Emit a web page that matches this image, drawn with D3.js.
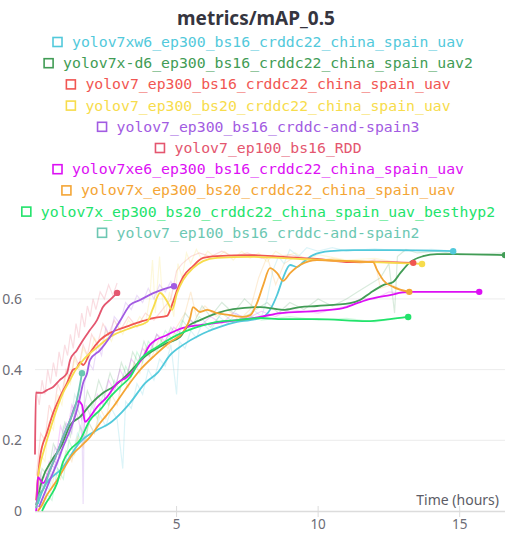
<!DOCTYPE html>
<html>
<head>
<meta charset="utf-8">
<script src="https://cdn.jsdelivr.net/npm/d3@7"></script>
<style>
  html, body { margin: 0; padding: 0; background: #fff; }
  svg { display: block; }
</style>
</head>
<body>
<svg id="chart" width="505" height="534"></svg>
<script>
// Run names, in legend order
const runNames = [
  "yolov7xw6_ep300_bs16_crddc22_china_spain_uav",
  "yolov7x-d6_ep300_bs16_crddc22_china_spain_uav2",
  "yolov7_ep300_bs16_crddc22_china_spain_uav",
  "yolov7_ep300_bs20_crddc22_china_spain_uav",
  "yolov7_ep300_bs16_crddc-and-spain3",
  "yolov7_ep100_bs16_RDD",
  "yolov7xe6_ep300_bs16_crddc22_china_spain_uav",
  "yolov7x_ep300_bs20_crddc22_china_spain_uav",
  "yolov7x_ep300_bs20_crddc22_china_spain_uav_besthyp2",
  "yolov7_ep100_bs16_crddc-and-spain2"
];

const runColors = [
  "#52c9db", "#419c55", "#f15652", "#f7dc4c", "#a25be2",
  "#e4566f", "#dc10f4", "#f4a535", "#22e36b", "#6cc7b2"
];

// Smoothed mAP_0.5 per run: [time in hours, value]
const xw6 = [[0.1,0.02],[0.28,0.06],[0.99,0.124],[1.59,0.195],[2.19,0.229],[2.65,0.249],[3.07,0.28],[3.36,0.306],[3.89,0.362],[4.35,0.393],[4.77,0.441],[5.23,0.47],[5.83,0.498],[6.43,0.518],[7.14,0.535],[7.6,0.54],[8.06,0.549],[8.3,0.569],[8.55,0.611],[8.76,0.659],[9.01,0.696],[9.26,0.69],[9.47,0.704],[9.82,0.724],[10.42,0.735],[11.24,0.738],[12.9,0.738],[14.77,0.735]];
const xd6 = [[0.04,0.017],[0.25,0.088],[0.6,0.144],[0.95,0.187],[1.24,0.243],[1.59,0.266],[2.01,0.306],[2.4,0.334],[2.76,0.351],[3.25,0.385],[3.82,0.433],[4.66,0.475],[5.12,0.492],[5.37,0.52],[5.83,0.54],[6.43,0.56],[7.0,0.571],[7.95,0.577],[8.76,0.569],[9.36,0.577],[9.96,0.58],[11.13,0.588],[11.48,0.597],[11.84,0.617],[12.3,0.639],[12.65,0.648],[12.9,0.673],[13.25,0.704],[13.71,0.721],[14.2,0.727],[14.9,0.727],[16.6,0.724]];
const v7bs16 = [[0.04,0.03],[0.18,0.153],[0.42,0.221],[0.64,0.277],[0.88,0.322],[1.13,0.362],[1.34,0.399],[1.48,0.405],[1.59,0.421],[1.7,0.413],[1.94,0.447],[2.3,0.484],[2.65,0.504],[3.11,0.518],[3.71,0.535],[4.17,0.546],[4.66,0.552],[4.84,0.583],[5.02,0.625],[5.23,0.662],[5.58,0.693],[5.94,0.716],[6.43,0.721],[7.6,0.724],[8.76,0.719],[9.96,0.713],[11.13,0.704],[12.3,0.704],[13.36,0.702]];
const v7bs20 = [[0.07,0.017],[0.1,0.088],[0.18,0.13],[0.32,0.173],[0.53,0.229],[0.78,0.291],[0.99,0.334],[1.24,0.371],[1.48,0.405],[1.7,0.427],[2.3,0.47],[2.65,0.492],[3.46,0.52],[3.96,0.535],[4.17,0.574],[4.42,0.617],[4.52,0.611],[4.7,0.588],[4.84,0.569],[5.02,0.617],[5.23,0.653],[5.58,0.687],[5.94,0.707],[6.43,0.716],[7.6,0.719],[9.36,0.713],[11.94,0.704],[13.67,0.699]];
const spain3 = [[0.14,0.011],[0.53,0.088],[0.78,0.136],[0.99,0.181],[1.24,0.229],[1.48,0.286],[1.59,0.322],[1.7,0.362],[1.84,0.39],[1.94,0.427],[2.3,0.455],[2.65,0.492],[3.07,0.547],[3.36,0.583],[3.71,0.597],[4.2,0.617],[4.91,0.636]];
const rdd = [[0.0,0.16],[0.03,0.335],[0.25,0.334],[0.42,0.342],[0.64,0.351],[0.88,0.371],[1.13,0.39],[1.24,0.427],[1.48,0.455],[1.7,0.484],[1.94,0.512],[2.19,0.54],[2.4,0.577],[2.65,0.597],[2.9,0.617]];
const xe6 = [[0.04,0.0],[0.07,0.03],[0.1,0.096],[0.28,0.079],[0.53,0.116],[0.78,0.164],[0.99,0.209],[1.24,0.257],[1.52,0.311],[1.66,0.3],[1.77,0.252],[1.94,0.266],[2.19,0.294],[2.54,0.322],[2.9,0.362],[3.25,0.379],[3.82,0.436],[4.06,0.47],[4.66,0.498],[5.23,0.518],[5.83,0.526],[6.43,0.532],[7.14,0.54],[7.95,0.549],[8.66,0.56],[9.96,0.566],[10.88,0.574],[11.38,0.588],[11.84,0.6],[12.54,0.611],[13.14,0.62],[15.69,0.62]];
const xbs20 = [[0.1,0.0],[0.25,0.017],[0.42,0.045],[0.71,0.079],[0.99,0.116],[1.31,0.158],[1.59,0.181],[1.94,0.209],[2.3,0.249],[2.76,0.294],[3.25,0.351],[3.71,0.399],[4.24,0.441],[4.77,0.478],[5.23,0.506],[5.48,0.546],[5.58,0.577],[5.83,0.563],[6.08,0.569],[6.43,0.56],[6.89,0.554],[7.35,0.549],[7.6,0.554],[7.84,0.588],[8.06,0.639],[8.3,0.687],[8.55,0.673],[8.76,0.651],[9.01,0.673],[9.36,0.696],[9.96,0.71],[11.13,0.707],[11.94,0.704],[12.08,0.682],[12.3,0.653],[12.65,0.634],[13.22,0.62]];
const besthyp2 = [[0.25,0.0],[0.35,0.017],[0.53,0.04],[0.78,0.079],[0.99,0.139],[1.24,0.173],[1.59,0.201],[1.94,0.257],[2.3,0.286],[2.65,0.322],[3.0,0.351],[3.36,0.379],[3.71,0.427],[4.31,0.464],[4.88,0.492],[5.83,0.523],[6.43,0.535],[7.14,0.54],[7.95,0.546],[8.76,0.543],[9.96,0.543],[11.73,0.537],[12.54,0.543],[13.18,0.549]];
const spain2 = [[0.04,0.008],[0.14,0.045],[0.28,0.06],[0.53,0.116],[0.78,0.164],[0.99,0.209],[1.24,0.257],[1.48,0.314],[1.66,0.39]];

const runSeries = [xw6, xd6, v7bs16, v7bs20, spain3, rdd, xe6, xbs20, besthyp2, spain2];

// Unsmoothed per-epoch values, drawn faintly behind the smoothed lines
const xw6Raw = [[0.1,0.02],[0.3,0.08],[0.5,0.06],[0.7,0.13],[0.9,0.11],[1.1,0.17],[1.3,0.15],[1.5,0.22],[1.7,0.19],[1.9,0.25],[2.1,0.22],[2.3,0.27],[2.5,0.24],[2.7,0.29],[2.9,0.26],[3.1,0.12],[3.2,0.31],[3.4,0.29],[3.6,0.36],[3.8,0.33],[4.0,0.4],[4.2,0.37],[4.4,0.43],[4.6,0.41],[4.8,0.47],[5.0,0.33],[5.1,0.48],[5.3,0.46],[5.5,0.51],[5.7,0.49],[5.9,0.53],[6.2,0.51],[6.5,0.55],[6.8,0.53],[7.1,0.56],[7.4,0.54],[7.7,0.57],[8.0,0.55],[8.2,0.6],[8.4,0.68],[8.6,0.72],[8.8,0.7],[9.0,0.74],[9.3,0.72],[9.6,0.745],[10.0,0.735],[10.5,0.745],[11.0,0.735],[12.0,0.742],[13.0,0.735],[14.0,0.74],[14.77,0.735]];
const xd6Raw = [[0.05,0.03],[0.25,0.12],[0.45,0.1],[0.65,0.19],[0.85,0.16],[1.05,0.25],[1.25,0.21],[1.45,0.3],[1.65,0.26],[1.85,0.34],[2.05,0.3],[2.25,0.37],[2.45,0.33],[2.65,0.39],[2.85,0.35],[3.05,0.42],[3.25,0.38],[3.45,0.45],[3.65,0.42],[3.85,0.48],[4.05,0.44],[4.3,0.5],[4.55,0.47],[4.8,0.52],[5.05,0.49],[5.3,0.56],[5.6,0.53],[5.9,0.58],[6.2,0.55],[6.6,0.59],[7.0,0.56],[7.4,0.6],[7.8,0.57],[8.2,0.59],[8.6,0.56],[9.0,0.59],[9.5,0.57],[10.0,0.6],[10.5,0.58],[11.0,0.6],[11.4,0.62],[11.8,0.64],[12.2,0.66],[12.5,0.7],[12.7,0.56],[12.8,0.72],[13.1,0.74],[13.5,0.73],[14.2,0.735],[15.0,0.725],[16.6,0.73]];
const v7bs16Raw = [[0.05,0.1],[0.2,0.22],[0.35,0.2],[0.5,0.3],[0.65,0.27],[0.8,0.36],[0.95,0.33],[1.1,0.4],[1.25,0.37],[1.4,0.44],[1.55,0.41],[1.7,0.47],[1.85,0.44],[2.0,0.5],[2.2,0.47],[2.4,0.53],[2.6,0.5],[2.8,0.54],[3.0,0.51],[3.3,0.55],[3.6,0.52],[3.9,0.56],[4.2,0.54],[4.5,0.57],[4.8,0.6],[5.0,0.68],[5.2,0.7],[5.5,0.72],[5.8,0.73],[6.2,0.72],[6.6,0.735],[7.0,0.72],[7.5,0.73],[8.0,0.715],[9.0,0.725],[10.0,0.71],[11.0,0.705],[12.0,0.71],[13.36,0.7]];
const v7bs20Raw = [[0.07,0.05],[0.2,0.16],[0.35,0.14],[0.5,0.25],[0.65,0.23],[0.8,0.33],[0.95,0.3],[1.1,0.39],[1.25,0.36],[1.4,0.43],[1.55,0.4],[1.7,0.46],[1.9,0.43],[2.1,0.49],[2.3,0.46],[2.5,0.51],[2.7,0.48],[2.9,0.53],[3.1,0.5],[3.3,0.54],[3.5,0.52],[3.7,0.55],[3.9,0.53],[4.05,0.6],[4.15,0.71],[4.25,0.56],[4.4,0.72],[4.5,0.6],[4.6,0.55],[4.75,0.62],[4.9,0.55],[5.05,0.7],[5.2,0.66],[5.35,0.73],[5.5,0.7],[5.7,0.74],[5.9,0.71],[6.1,0.735],[6.4,0.715],[6.7,0.735],[7.0,0.71],[7.3,0.735],[7.6,0.715],[7.9,0.73],[8.2,0.705],[8.5,0.735],[8.8,0.72],[9.2,0.73],[9.6,0.71],[10.0,0.725],[11.0,0.71],[12.0,0.715],[13.0,0.7],[13.67,0.705]];
const spain3Raw = [[0.1,0.03],[0.3,0.1],[0.5,0.08],[0.7,0.18],[0.9,0.15],[1.1,0.25],[1.3,0.22],[1.5,0.33],[1.65,0.3],[1.7,0.02],[1.75,0.36],[1.9,0.42],[2.05,0.4],[2.2,0.47],[2.35,0.44],[2.5,0.52],[2.65,0.49],[2.8,0.55],[3.0,0.53],[3.2,0.59],[3.4,0.57],[3.6,0.61],[3.8,0.59],[4.0,0.63],[4.2,0.6],[4.4,0.64],[4.6,0.62],[4.8,0.65],[4.91,0.63]];
const rddRaw = [[0.0,0.16],[0.05,0.34],[0.15,0.3],[0.25,0.37],[0.35,0.33],[0.45,0.4],[0.55,0.36],[0.65,0.42],[0.75,0.38],[0.85,0.45],[0.95,0.41],[1.05,0.47],[1.15,0.44],[1.25,0.5],[1.35,0.46],[1.45,0.53],[1.55,0.49],[1.65,0.56],[1.75,0.52],[1.85,0.58],[1.95,0.55],[2.05,0.6],[2.15,0.57],[2.3,0.62],[2.45,0.6],[2.6,0.64],[2.75,0.61],[2.9,0.645]];
const xe6Raw = [[0.05,0.0],[0.15,0.12],[0.3,0.06],[0.5,0.14],[0.7,0.12],[0.9,0.24],[1.1,0.2],[1.3,0.3],[1.5,0.27],[1.7,0.2],[1.8,0.3],[2.0,0.26],[2.2,0.33],[2.4,0.3],[2.6,0.37],[2.8,0.34],[3.0,0.4],[3.2,0.37],[3.4,0.43],[3.6,0.41],[3.8,0.46],[4.0,0.44],[4.3,0.5],[4.6,0.48],[4.9,0.52],[5.2,0.5],[5.5,0.54],[5.8,0.52],[6.2,0.55],[6.6,0.53],[7.0,0.56],[7.5,0.545],[8.0,0.565],[8.5,0.55],[9.0,0.57],[10.0,0.56],[11.0,0.58],[11.5,0.6],[12.0,0.6],[12.5,0.62],[13.14,0.615]];
const xbs20Raw = [[0.1,0.0],[0.3,0.04],[0.5,0.03],[0.7,0.11],[0.9,0.09],[1.1,0.17],[1.3,0.14],[1.5,0.21],[1.7,0.18],[1.9,0.25],[2.1,0.22],[2.3,0.29],[2.5,0.26],[2.7,0.33],[2.9,0.3],[3.1,0.38],[3.3,0.35],[3.5,0.42],[3.7,0.39],[3.9,0.46],[4.1,0.43],[4.4,0.49],[4.7,0.46],[5.0,0.52],[5.3,0.56],[5.5,0.62],[5.7,0.55],[6.0,0.58],[6.4,0.55],[6.8,0.57],[7.2,0.54],[7.6,0.57],[7.9,0.66],[8.2,0.72],[8.5,0.64],[8.8,0.7],[9.2,0.72],[9.6,0.705],[10.5,0.715],[11.5,0.7],[12.0,0.71],[12.2,0.63],[12.6,0.64],[13.22,0.615]];
const besthyp2Raw = [[0.25,0.0],[0.4,0.05],[0.6,0.03],[0.8,0.12],[1.0,0.09],[1.2,0.2],[1.4,0.16],[1.6,0.24],[1.8,0.2],[2.0,0.3],[2.2,0.26],[2.4,0.33],[2.6,0.3],[2.8,0.37],[3.0,0.34],[3.2,0.41],[3.4,0.38],[3.6,0.45],[3.8,0.42],[4.0,0.48],[4.3,0.45],[4.6,0.51],[4.9,0.48],[5.2,0.54],[5.5,0.51],[5.8,0.55],[6.2,0.52],[6.6,0.56],[7.0,0.535],[7.5,0.555],[8.0,0.54],[9.0,0.55],[10.0,0.54],[11.0,0.545],[12.0,0.535],[13.18,0.55]];
const spain2Raw = [[0.05,0.02],[0.2,0.08],[0.4,0.06],[0.6,0.15],[0.8,0.13],[1.0,0.24],[1.2,0.22],[1.4,0.33],[1.55,0.3],[1.66,0.4]];

const rawSeries = [xw6Raw, xd6Raw, v7bs16Raw, v7bs20Raw, spain3Raw, rddRaw, xe6Raw, xbs20Raw, besthyp2Raw, spain2Raw];

const yTicks = [0, 0.2, 0.4, 0.6];
const xTicks = [5, 10, 15];

const titleText = "metrics/mAP_0.5";
const xAxisTitle = "Time (hours)";

// ---- layout ----
const svg = d3.select("#chart");
const x = d3.scaleLinear().domain([0, 16.6]).range([35, 505]);
const y = d3.scaleLinear().domain([0, 0.75]).range([511, 245.9]);

// title
svg.append("text")
  .attr("x", 256).attr("y", 25)
  .attr("text-anchor", "middle")
  .attr("font-family", "'Noto Sans', sans-serif")
  .attr("font-weight", "bold")
  .attr("font-size", 19)
  .attr("fill", "#35353f")
  .text(titleText);

// legend, one centred row per run
const legend = svg.append("g");
runNames.forEach((name, i) => {
  const row = legend.append("g").attr("transform", `translate(258, ${42 + i * 21.2})`);
  const label = row.append("text")
    .attr("x", 0).attr("y", 5)
    .attr("font-family", "'DejaVu Sans Mono', monospace")
    .attr("font-size", 14.8)
    .attr("fill", runColors[i])
    .text(name);
  const w = label.node().getComputedTextLength();
  const total = w + 20;
  label.attr("x", -total / 2 + 20);
  row.append("rect")
    .attr("x", -total / 2 + 1).attr("y", -4.5)
    .attr("width", 9).attr("height", 9)
    .attr("fill", "none")
    .attr("stroke", runColors[i])
    .attr("stroke-width", 1.6);
});

// grid lines
svg.append("g").selectAll("line")
  .data(yTicks.filter(d => d > 0))
  .join("line")
  .attr("x1", 35).attr("x2", 505)
  .attr("y1", d => y(d)).attr("y2", d => y(d))
  .attr("stroke", "#ececec").attr("stroke-width", 1);

// y axis labels
svg.append("g").selectAll("text")
  .data(yTicks)
  .join("text")
  .attr("x", 22).attr("y", d => y(d) + 5)
  .attr("text-anchor", "end")
  .attr("font-family", "'Noto Sans', sans-serif")
  .attr("font-size", 14)
  .attr("fill", "#6c6c76")
  .text(d => d === 0 ? "0" : d3.format(".1f")(d));

// x axis
const xAxis = svg.append("g");
xAxis.append("line")
  .attr("x1", 35).attr("x2", 505)
  .attr("y1", 511.5).attr("y2", 511.5)
  .attr("stroke", "#dcdcdc").attr("stroke-width", 1.5);
xAxis.selectAll("line.tick")
  .data(xTicks)
  .join("line")
  .attr("class", "tick")
  .attr("x1", d => x(d)).attr("x2", d => x(d))
  .attr("y1", 506).attr("y2", 517)
  .attr("stroke", "#dcdcdc").attr("stroke-width", 1);
xAxis.selectAll("text.tick")
  .data(xTicks)
  .join("text")
  .attr("class", "tick")
  .attr("x", d => x(d)).attr("y", 529)
  .attr("text-anchor", "middle")
  .attr("font-family", "'Noto Sans', sans-serif")
  .attr("font-size", 13.5)
  .attr("fill", "#6c6c76")
  .text(d => d);

svg.append("text")
  .attr("x", 499).attr("y", 505)
  .attr("text-anchor", "end")
  .attr("font-family", "'Noto Sans', sans-serif")
  .attr("font-size", 14)
  .attr("fill", "#5c5c66")
  .text(xAxisTitle);

const line = d3.line()
  .x(d => x(d[0]))
  .y(d => y(d[1]));

// faint raw traces
const raw = svg.append("g");
rawSeries.forEach((s, i) => {
  raw.append("path")
    .datum(s)
    .attr("d", line)
    .attr("fill", "none")
    .attr("stroke", runColors[i])
    .attr("stroke-opacity", 0.2)
    .attr("stroke-width", 1.2);
});

// smoothed run lines
const smooth = d3.line()
  .x(d => x(d[0]))
  .y(d => y(d[1]))
  .curve(d3.curveMonotoneX);

const lines = svg.append("g");
runSeries.forEach((s, i) => {
  lines.append("path")
    .datum(s)
    .attr("d", smooth)
    .attr("fill", "none")
    .attr("stroke", runColors[i])
    .attr("stroke-width", 1.8)
    .attr("stroke-linejoin", "round");
});
runSeries.forEach((s, i) => {
  const last = s[s.length - 1];
  lines.append("circle")
    .attr("cx", x(last[0])).attr("cy", y(last[1]))
    .attr("r", 3.2)
    .attr("fill", runColors[i]);
});
</script>
</body>
</html>
